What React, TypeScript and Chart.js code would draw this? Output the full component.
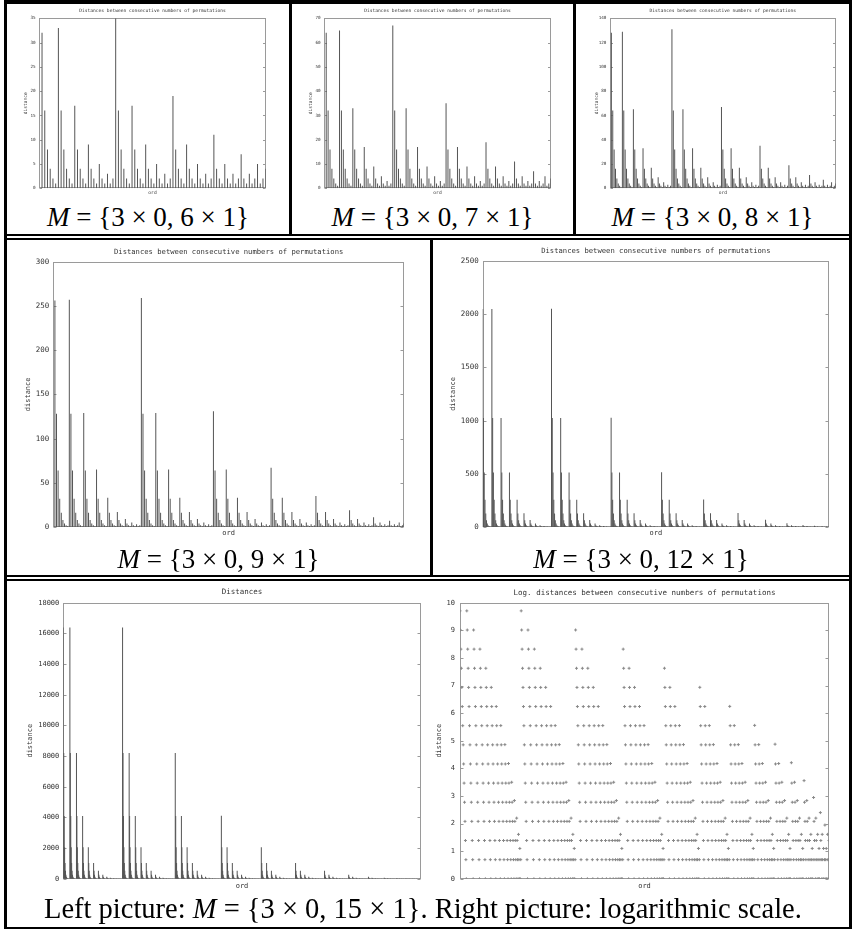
import React, { useEffect, useRef } from "react";
import { Chart, registerables } from "chart.js";

Chart.register(...registerables);

// ---- Data: distances between consecutive permutation numbers (literal runs) ----
const run0 = [1, 2];
const run1 = [2, 1, 3];
const run2 = [4, 2, 1, 5];
const run3 = [8, 4, 2, 1, 9];
const run4 = [16, 8, 4, 2, 1, 17];
const run5 = [32, 16, 8, 4, 2, 1, 33];
const run6 = [64, 32, 16, 8, 4, 2, 1, 65];
const run7 = [128, 64, 32, 16, 8, 4, 2, 1, 129];
const run8 = [256, 128, 64, 32, 16, 8, 4, 2, 1, 257];
const run9 = [512, 256, 128, 64, 32, 16, 8, 4, 2, 1, 513];
const run10 = [1024, 512, 256, 128, 64, 32, 16, 8, 4, 2, 1, 1025];
const run11 = [2048, 1024, 512, 256, 128, 64, 32, 16, 8, 4, 2, 1, 2049];
const run12 = [4096, 2048, 1024, 512, 256, 128, 64, 32, 16, 8, 4, 2, 1, 4097];
const run13 = [8192, 4096, 2048, 1024, 512, 256, 128, 64, 32, 16, 8, 4, 2, 1, 8193];
const run14 = [16384, 8192, 4096, 2048, 1024, 512, 256, 128, 64, 32, 16, 8, 4, 2, 1, 16385];

const block0 = [...run0];
const block1 = [...run1, ...block0];
const block2 = [...run2, ...block1];
const block3 = [...run3, ...block2];
const block4 = [...run4, ...block3];
const block5 = [...run5, ...block4];
const block6 = [...run6, ...block5];
const block7 = [...run7, ...block6];
const block8 = [...run8, ...block7];
const block9 = [...run9, ...block8];
const block10 = [...run10, ...block9];
const block11 = [...run11, ...block10];
const block12 = [...run12, ...block11];
const block13 = [...run13, ...block12];
const block14 = [...run14, ...block13];

const dist1 = [...block0, 4];
const dist2 = [...block1, 5, ...dist1];
const dist3 = [...block2, 7, ...dist2];
const dist4 = [...block3, 11, ...dist3];
const dist5 = [...block4, 19, ...dist4];
const dist6 = [...block5, 35, ...dist5];
const dist7 = [...block6, 67, ...dist6];
const dist8 = [...block7, 131, ...dist7];
const dist9 = [...block8, 259, ...dist8];
const dist10 = [...block9, 515, ...dist9];
const dist11 = [...block10, 1027, ...dist10];
const dist12 = [...block11, 2051, ...dist11];
const dist13 = [...block12, 4099, ...dist12];
const dist14 = [...block13, 8195, ...dist13];
const dist15 = [...block14, 16387, ...dist14];

// ---- Tick labels ----
const ticks6 = [0, 5, 10, 15, 20, 25, 30, 35];
const ticks7 = [0, 10, 20, 30, 40, 50, 60, 70];
const ticks8 = [0, 20, 40, 60, 80, 100, 120, 140];
const ticks9 = [0, 50, 100, 150, 200, 250, 300];
const ticks12 = [0, 500, 1000, 1500, 2000, 2500];
const ticks15 = [0, 2000, 4000, 6000, 8000, 10000, 12000, 14000, 16000, 18000];
const ticksLog = [0, 1, 2, 3, 4, 5, 6, 7, 8, 9, 10];

const TITLE = "Distances between consecutive numbers of permutations";
const TITLE_SHORT = "Distances";
const TITLE_LOG = "Log. distances between consecutive numbers of permutations";

const MONO = '"DejaVu Sans Mono", "Liberation Mono", monospace';
const SERIF = '"Liberation Serif", "DejaVu Serif", serif';
const TEXT = "#333";
const FRAME = "#9a9a9a";
const BAR = "#555";
const POINT = "#888";

type Spec = {
  key: string;
  kind: "bar" | "log";
  values: number[];
  xMin: number;
  xMax: number;
  xStart: number;
  yMax: number;
  yTicks: number[];
  cell: [number, number, number, number];
  plot: [number, number, number, number];
  title: string;
  titleY: number;
  titleFont: number;
  tickFont: number;
  labelFont: number;
  ylabX: number;
  ordY: number;
  tickLen: number;
  tickPad: number;
};

const SPECS: Spec[] = [
  {
    key: "p6", kind: "bar", values: dist6, xMin: 0, xMax: 83, xStart: 1, yMax: 35, yTicks: ticks6,
    cell: [7, 5, 289, 200], plot: [39.3, 18.3, 265.7, 188.3], title: TITLE, titleY: 11,
    titleFont: 4.6, tickFont: 4.3, labelFont: 4.6, ylabX: 26, ordY: 192.5, tickLen: 2.5, tickPad: 3.6,
  },
  {
    key: "p7", kind: "bar", values: dist7, xMin: 0, xMax: 119, xStart: 1, yMax: 70, yTicks: ticks7,
    cell: [292, 5, 573, 200], plot: [324.3, 18.3, 550.7, 188.3], title: TITLE, titleY: 11,
    titleFont: 4.6, tickFont: 4.3, labelFont: 4.6, ylabX: 311, ordY: 192.5, tickLen: 2.5, tickPad: 3.6,
  },
  {
    key: "p8", kind: "bar", values: dist8, xMin: 0, xMax: 164, xStart: 1, yMax: 140, yTicks: ticks8,
    cell: [576, 5, 849, 200], plot: [610, 18.3, 835.7, 188.3], title: TITLE, titleY: 11,
    titleFont: 4.6, tickFont: 4.3, labelFont: 4.6, ylabX: 596.5, ordY: 192.5, tickLen: 2.5, tickPad: 3.6,
  },
  {
    key: "p9", kind: "bar", values: dist9, xMin: 0, xMax: 219, xStart: 1, yMax: 300, yTicks: ticks9,
    cell: [7, 240, 430, 545], plot: [53.3, 261.7, 404, 527], title: TITLE, titleY: 251.7,
    titleFont: 7.2, tickFont: 7.5, labelFont: 7, ylabX: 28.3, ordY: 532.7, tickLen: 3, tickPad: 4,
  },
  {
    key: "p12", kind: "bar", values: dist12, xMin: 1, xMax: 454, xStart: 1, yMax: 2500, yTicks: ticks12,
    cell: [433, 240, 849, 545], plot: [482.7, 261, 829, 527], title: TITLE, titleY: 251,
    titleFont: 7.2, tickFont: 7.5, labelFont: 7, ylabX: 453, ordY: 532.7, tickLen: 3, tickPad: 4,
  },
  {
    key: "p15", kind: "bar", values: dist15, xMin: 1, xMax: 815, xStart: 1, yMax: 18000, yTicks: ticks15,
    cell: [7, 581, 430, 895], plot: [63.3, 602.7, 420.7, 878.7], title: TITLE_SHORT, titleY: 592.3,
    titleFont: 7.5, tickFont: 7, labelFont: 7, ylabX: 30, ordY: 886, tickLen: 3, tickPad: 4,
  },
  {
    key: "plog", kind: "log", values: dist15, xMin: 1, xMax: 815, xStart: 1, yMax: 10, yTicks: ticksLog,
    cell: [433, 581, 849, 895], plot: [460, 602.7, 829, 878.8], title: TITLE_LOG, titleY: 592.7,
    titleFont: 7.5, tickFont: 7, labelFont: 7, ylabX: 439, ordY: 886, tickLen: 3, tickPad: 5,
  },
];

function buildConfig(s: Spec): any {
  const [ox, oy, x1, y1] = s.cell;
  const [L, T, R, B] = s.plot;
  const isLog = s.kind === "log";
  const pts = s.values.map((v, i) => ({ x: s.xStart + i, y: isLog ? Math.log(v) : v }));
  const dataset: any = isLog
    ? {
        data: pts,
        pointStyle: "cross",
        pointRadius: 1.5,
        borderColor: POINT,
        backgroundColor: POINT,
        borderWidth: 1,
        showLine: false,
      }
    : {
        data: pts,
        backgroundColor: BAR,
        barThickness: 1,
        borderWidth: 0,
        inflateAmount: 0,
        grouped: false,
      };

  const plugin = {
    id: "gnuframe",
    beforeDatasetsDraw(chart: any) {
      const { ctx, chartArea: a } = chart;
      const ys = chart.scales.y;
      ctx.save();
      ctx.strokeStyle = FRAME;
      ctx.lineWidth = 1;
      const l = Math.round(a.left) + 0.5;
      const r = Math.round(a.right) - 0.5;
      const t = Math.round(a.top) + 0.5;
      const b = Math.round(a.bottom) - 0.5;
      ctx.strokeRect(l, t, r - l, b - t);
      ctx.beginPath();
      for (const tk of ys.ticks) {
        const py = Math.round(ys.getPixelForValue(tk.value)) + 0.5;
        ctx.moveTo(l, py);
        ctx.lineTo(l + s.tickLen, py);
        ctx.moveTo(r, py);
        ctx.lineTo(r - s.tickLen, py);
      }
      ctx.stroke();
      ctx.restore();
    },
    afterDraw(chart: any) {
      const { ctx, chartArea: a } = chart;
      ctx.save();
      ctx.fillStyle = TEXT;
      ctx.textAlign = "center";
      ctx.textBaseline = "middle";
      const cx = (a.left + a.right) / 2;
      ctx.font = `${s.titleFont}px ${MONO}`;
      ctx.fillText(s.title, cx, s.titleY - oy);
      ctx.font = `${s.labelFont}px ${MONO}`;
      ctx.fillText("ord", cx, s.ordY - oy);
      ctx.translate(s.ylabX - ox, (a.top + a.bottom) / 2);
      ctx.rotate(-Math.PI / 2);
      ctx.fillText("distance", 0, 0);
      ctx.restore();
    },
  };

  return {
    type: isLog ? "scatter" : "bar",
    data: { datasets: [dataset] },
    options: {
      animation: false,
      responsive: false,
      maintainAspectRatio: false,
      devicePixelRatio: 1,
      events: [],
      layout: { padding: { left: 0, top: T - oy, right: x1 - R, bottom: y1 - B } },
      plugins: { legend: { display: false }, tooltip: { enabled: false }, title: { display: false } },
      scales: {
        x: {
          type: "linear",
          min: s.xMin,
          max: s.xMax,
          display: false,
          offset: false,
          grid: { offset: false, display: false },
        },
        y: {
          type: "linear",
          position: "left",
          min: 0,
          max: s.yMax,
          grid: { display: false, drawTicks: false },
          border: { display: false },
          ticks: {
            font: { family: MONO, size: s.tickFont },
            color: TEXT,
            padding: s.tickPad,
            autoSkip: false,
            callback: (v: any) => String(v),
          },
          afterBuildTicks: (scale: any) => {
            scale.ticks = s.yTicks.map((v) => ({ value: v }));
          },
          afterFit: (scale: any) => {
            scale.width = L - ox;
          },
        },
      },
    },
    plugins: [plugin],
  };
}

function Plot({ spec }: { spec: Spec }) {
  const ref = useRef<HTMLCanvasElement | null>(null);
  useEffect(() => {
    const canvas = ref.current;
    if (!canvas) return;
    const chart = new Chart(canvas, buildConfig(spec));
    return () => chart.destroy();
  }, [spec]);
  const [x0, y0, x1, y1] = spec.cell;
  return (
    <canvas
      ref={ref}
      width={x1 - x0}
      height={y1 - y0}
      style={{ position: "absolute", left: x0, top: y0, width: x1 - x0, height: y1 - y0 }}
    />
  );
}

const RULES: [number, number, number, number][] = [
  [4, 0, 852, 4],
  [4, 0, 7, 929],
  [849, 0, 852, 929],
  [289, 0, 292, 234],
  [573, 0, 576, 234],
  [4, 234, 852, 236],
  [4, 238, 852, 240],
  [430, 240, 433, 575],
  [4, 575, 852, 577],
  [4, 579, 852, 581],
  [4, 927, 852, 929],
];

const CAP_FONT = 27;
const CAP_FONT_WIDE = 28.5;

function Caption({ x0, x1, top, n }: { x0: number; x1: number; top: number; n: number }) {
  return (
    <div
      style={{
        position: "absolute",
        left: x0,
        width: x1 - x0,
        top,
        fontFamily: SERIF,
        fontSize: CAP_FONT,
        lineHeight: `${CAP_FONT}px`,
        textAlign: "center",
        whiteSpace: "nowrap",
        color: "#000",
      }}
    >
      <span style={{ fontStyle: "italic" }}>M</span> = {"{"}3 × 0, {n} × 1{"}"}
    </div>
  );
}

export default function App() {
  return (
    <div
      style={{
        position: "absolute",
        left: 0,
        top: 0,
        width: 852,
        height: 929,
        background: "#fff",
        overflow: "hidden",
      }}
    >
      {SPECS.map((s) => (
        <Plot key={s.key} spec={s} />
      ))}
      <Caption x0={7} x1={289} top={204} n={6} />
      <Caption x0={292} x1={573} top={204} n={7} />
      <Caption x0={576} x1={849} top={204} n={8} />
      <Caption x0={7} x1={430} top={546} n={9} />
      <Caption x0={433} x1={849} top={546} n={12} />
      <div
        style={{
          position: "absolute",
          left: 44,
          top: 895,
          fontFamily: SERIF,
          fontSize: CAP_FONT_WIDE,
          lineHeight: `${CAP_FONT_WIDE}px`,
          whiteSpace: "nowrap",
          color: "#000",
        }}
      >
        Left picture: <span style={{ fontStyle: "italic" }}>M</span> = {"{"}3 × 0, 15 × 1{"}"}. Right picture: logarithmic scale.
      </div>
      {RULES.map(([a, b, c, d], i) => (
        <div
          key={i}
          style={{ position: "absolute", left: a, top: b, width: c - a, height: d - b, background: "#000" }}
        />
      ))}
    </div>
  );
}
